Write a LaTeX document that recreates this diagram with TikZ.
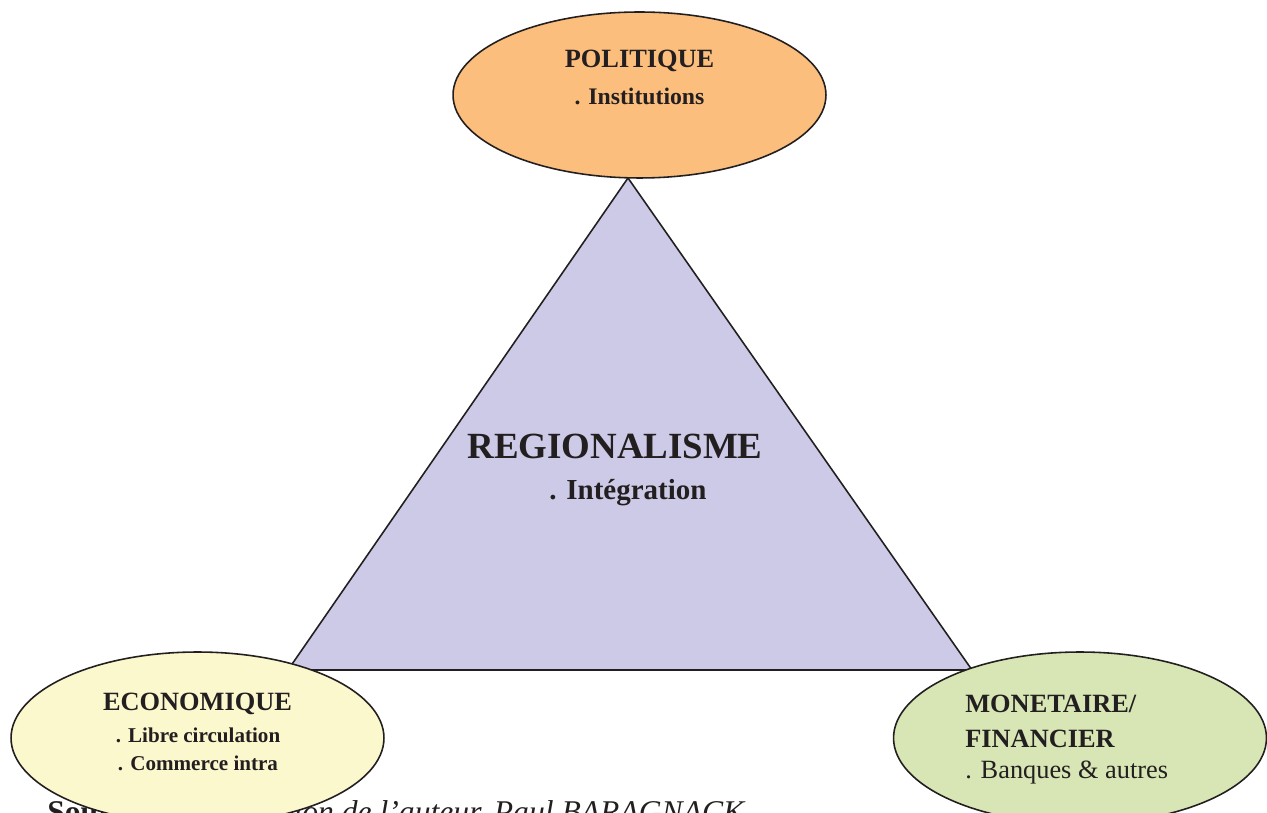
\documentclass[tikz,border=0pt]{standalone}
\usepackage{fontspec}
\setmainfont{Liberation Serif}
\usetikzlibrary{shapes.geometric}
\definecolor{orangepol}{RGB}{251,190,124}
\definecolor{lavtri}{RGB}{204,202,230}
\definecolor{yellowecon}{RGB}{251,248,206}
\definecolor{greenmon}{RGB}{215,230,180}
\definecolor{inkdark}{RGB}{35,31,32}

\begin{document}
\begin{tikzpicture}[x=0.02cm, y=-0.02cm, inkdark,
  bubble/.style={ellipse, draw=inkdark, line width=0.9pt, inner sep=0pt,
    minimum width=7.46cm, minimum height=3.32cm},
  headtxt/.style={font=\bfseries\fontsize{15}{18}\selectfont},
  subtxt/.style={font=\bfseries\fontsize{12}{14}\selectfont}]
\useasboundingbox (0,0) rectangle (1267,813);
% source line, partly hidden under the ellipse
\node[anchor=base west, inner sep=0pt, font=\fontsize{18}{21}\selectfont] (src) at (47,822)
  {\textbf{Source :} \textit{Construction de l'auteur, Paul BARAGNACK}};
% triangle
\coordinate (apex) at (628,178);
\coordinate (bl) at (288,670);
\coordinate (br) at (972,670);
\filldraw[fill=lavtri, draw=inkdark, line width=0.9pt, line join=miter] (apex) -- (bl) -- (br) -- cycle;
\draw[inkdark, line width=1.4pt] (bl) -- (br);
\node[font=\bfseries\fontsize{21}{24}\selectfont] (reg) at (615,446) {REGIONALISME};
\node[font=\bfseries\fontsize{16.5}{19}\selectfont] (integ) at (628,493) {. Intégration};
% ellipses
\node[bubble, fill=orangepol] (pol) at (639.5,95) {};
\node[bubble, fill=yellowecon, minimum height=3.44cm] (eco) at (197.5,738) {};
\node[bubble, fill=greenmon, minimum height=3.44cm] (mon) at (1080,738) {};
\node[headtxt] (polt) at (639.5,61) {POLITIQUE};
\node[font=\bfseries\fontsize{13.5}{16}\selectfont] (pols) at (639.5,96) {. Institutions};
\node[headtxt] (ecot) at (197.5,704) {ECONOMIQUE};
\node[subtxt] (ecoa) at (198,735) {. Libre circulation};
\node[subtxt] (ecob) at (198,763) {. Commerce intra};
\node[headtxt, anchor=west, inner sep=0pt] (mona) at (965,704) {MONETAIRE/};
\node[headtxt, anchor=west, inner sep=0pt] (monb) at (965,739) {FINANCIER};
\node[anchor=west, inner sep=0pt, font=\fontsize{15}{18}\selectfont] (monc) at (965,773) {. Banques \& autres};
\end{tikzpicture}
\end{document}
